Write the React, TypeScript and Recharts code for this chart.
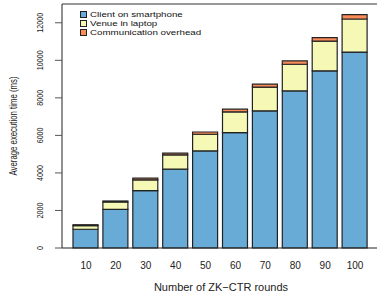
import React from 'react';
import { BarChart, Bar, XAxis, YAxis, Legend, ReferenceLine } from 'recharts';

const rounds = ['10', '20', '30', '40', '50', '60', '70', '80', '90', '100'];
const clientSmartphone = [1000, 2060, 3060, 4200, 5170, 6150, 7310, 8370, 9440, 10440];
const venueLaptop = [190, 390, 570, 760, 890, 1100, 1260, 1420, 1580, 1760];
const commOverhead = [50, 55, 90, 90, 120, 145, 160, 175, 190, 230];
const yTicks = [0, 2000, 4000, 6000, 8000, 10000, 12000];

const seriesNames = ['Client on smartphone', 'Venue in laptop', 'Communication overhead'];
const colors = ['#67abd6', '#f6f9b6', '#fb8c5a'];

const data = rounds.map((r, i) => ({
  round: r,
  client: clientSmartphone[i],
  venue: venueLaptop[i],
  comm: commOverhead[i],
}));

const FONT = '"Liberation Sans", Arial, Helvetica, sans-serif';

const YTick = (props: any) => {
  const { y, payload } = props;
  return (
    <text
      transform={`translate(43, ${y}) rotate(-90) scale(0.8, 1)`}
      textAnchor="middle"
      fontSize={9}
      fontFamily={FONT}
      fill="#222"
    >
      {payload.value}
    </text>
  );
};

const LegendContent = () => {
  return (
    <div style={{ fontFamily: FONT, fontSize: 8, color: '#111' }}>
      {seriesNames.map((name, i) => (
        <div key={i} style={{ display: 'flex', alignItems: 'center', height: 9, lineHeight: '9px', whiteSpace: 'nowrap' }}>
          <div style={{ width: 5, height: 5, background: colors[i], border: '1px solid #222', marginRight: 3, flexShrink: 0 }} />
          <span style={{ display: 'inline-block', transform: 'scaleX(1.22)', transformOrigin: 'left center' }}>{name}</span>
        </div>
      ))}
    </div>
  );
};

export default function App() {
  return (
    <div style={{ position: 'absolute', left: 0, top: 0, width: 377, height: 294, background: '#fff' }}>
      <BarChart
        width={377}
        height={294}
        data={data}
        margin={{ top: 4, right: 0, bottom: 0, left: 0 }}
        barSize={25}
      >
        <XAxis
          dataKey="round"
          height={46}
          padding={{ left: 9, right: 7 }}
          tickLine={false}
          tickSize={0}
          tickMargin={14}
          axisLine={{ stroke: '#222' }}
          tick={{ fontSize: 10, fontFamily: FONT, fill: '#222' }}
          label={{
            content: () => (
              <text x={221} y={291} textAnchor="middle" fontSize={11} fontFamily={FONT} fill="#222">
                Number of ZK−CTR rounds
              </text>
            ),
          }}
        />
        <YAxis
          width={62}
          domain={[0, 13000]}
          ticks={yTicks}
          interval={0}
          tickSize={7}
          tickLine={{ stroke: '#555' }}
          axisLine={{ stroke: '#222' }}
          tick={<YTick />}
          label={{
            content: () => (
              <text
                transform="translate(17, 126) rotate(-90) scale(0.78, 1)"
                textAnchor="middle"
                fontSize={10}
                fontFamily={FONT}
                fill="#222"
              >
                Average execution time (ms)
              </text>
            ),
          }}
        />
        <ReferenceLine y={13000} stroke="#333" strokeWidth={1} />
        <Legend
          layout="horizontal"
          verticalAlign="middle"
          align="center"
          content={<LegendContent />}
          wrapperStyle={{ left: 80, top: 10, width: 'auto' }}
        />
        <Bar dataKey="client" name={seriesNames[0]} stackId="a" fill={colors[0]} stroke="#222" strokeWidth={1.2} isAnimationActive={false} />
        <Bar dataKey="venue" name={seriesNames[1]} stackId="a" fill={colors[1]} stroke="#222" strokeWidth={1.2} isAnimationActive={false} />
        <Bar dataKey="comm" name={seriesNames[2]} stackId="a" fill={colors[2]} stroke="#222" strokeWidth={1.2} isAnimationActive={false} />
      </BarChart>
    </div>
  );
}
